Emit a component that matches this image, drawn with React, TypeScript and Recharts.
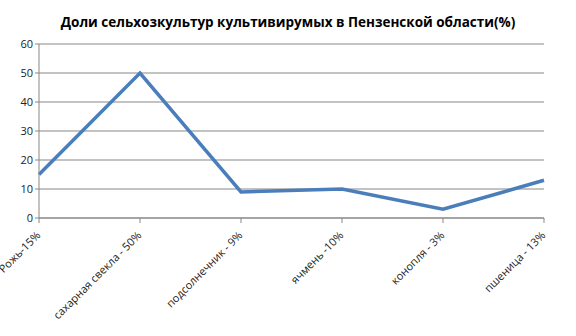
import React from "react";
import { LineChart, Line, XAxis, YAxis, CartesianGrid } from "recharts";

const categories = ["Рожь-15%", "сахарная свекла - 50%", "подсолнечник - 9%", "ячмень -10%", "конопля - 3%", "пшеница - 13%"];
const values = [15, 50, 9, 10, 3, 13];
const yTicks = [0, 10, 20, 30, 40, 50, 60];

const data = categories.map((c, i) => ({ name: c, value: values[i] }));

const FONT = "'Open Sans', 'DejaVu Sans', sans-serif";

const XTick = (props: any) => {
  const { x, y, payload } = props;
  return (
    <g transform={`translate(${x},${y + 9})`}>
      <text transform="rotate(-45)" textAnchor="end" dominantBaseline="middle" fontSize={11} fill="#222" fontFamily={FONT}>
        {payload.value}
      </text>
    </g>
  );
};

export default function App() {
  return (
    <div style={{ position: "fixed", left: 0, top: 0, width: 576, height: 336, background: "#fff" }}>
      <div style={{ position: "absolute", left: 0, top: 13, width: 576, textAlign: "center", fontFamily: FONT, fontWeight: 700, fontSize: 13.5, color: "#000" }}>
        Доли сельхозкультур культивирумых в Пензенской области(%)
      </div>
      <LineChart width={576} height={336} data={data} margin={{ top: 44, right: 32, bottom: 0, left: 0 }}>
        <CartesianGrid vertical={false} stroke="#878787" strokeWidth={1} />
        <XAxis
          dataKey="name"
          scale="point"
          interval={0}
          height={118}
          tick={<XTick />}
          tickLine={{ stroke: "#878787" }}
          axisLine={{ stroke: "#878787" }}
          tickSize={5}
        />
        <YAxis
          width={39}
          domain={[0, 60]}
          ticks={yTicks}
          interval={0}
          tick={{ fontSize: 11, fill: "#222", fontFamily: FONT }}
          tickLine={{ stroke: "#878787" }}
          axisLine={{ stroke: "#878787" }}
          tickSize={4}
        />
        <Line dataKey="value" stroke="#4a7ebb" strokeWidth={3.5} dot={false} isAnimationActive={false} />
      </LineChart>
    </div>
  );
}
